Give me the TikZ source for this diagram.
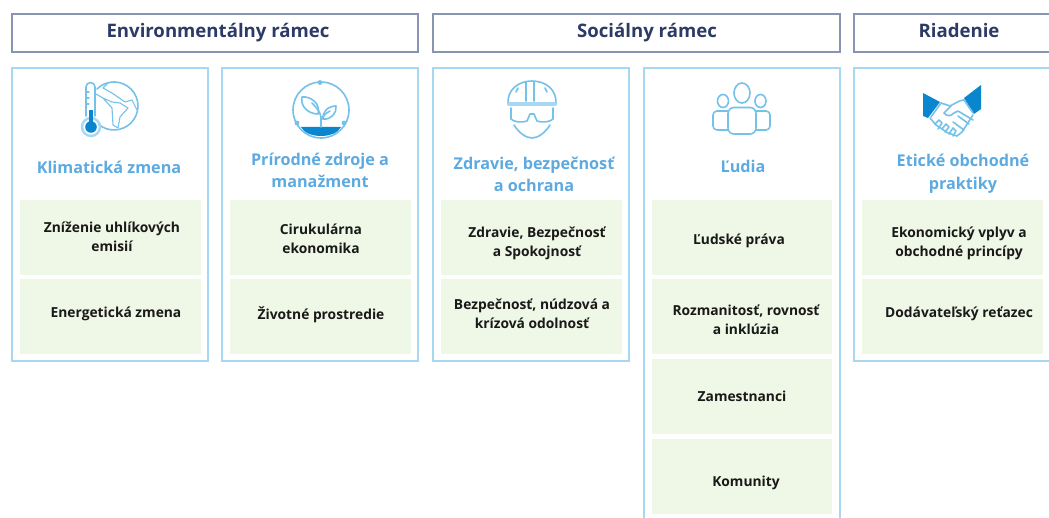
\documentclass[tikz,border=0pt]{standalone}
\usepackage{fontspec}
\setmainfont{Open Sans}
\definecolor{hdrline}{HTML}{8795B3}
\definecolor{hdrtext}{HTML}{2C3A66}
\definecolor{cardline}{HTML}{A6D8F3}
\definecolor{titletext}{HTML}{5DAAE0}
\definecolor{boxgreen}{HTML}{EFF7E6}
\definecolor{iconline}{HTML}{74C1EA}
\definecolor{icondark}{HTML}{0A86CE}
\tikzset{
  hdrbox/.style={draw=hdrline,line width=2.6pt,fill=white,inner sep=0pt},
  hdrlabel/.style={font=\fontsize{18.6}{22}\selectfont\bfseries,text=hdrtext,inner sep=0pt,align=center},
  cardbox/.style={draw=cardline,line width=2.7pt},
  titlelabel/.style={font=\fontsize{16.2}{22.5}\selectfont\bfseries,text=titletext,inner sep=0pt,align=center},
  itemlabel/.style={font=\fontsize{13.8}{19}\selectfont\bfseries,text=black!90,inner sep=0pt,align=center},
  iconstroke/.style={draw=iconline,line width=1.6pt,line cap=round,line join=round},
  iconthin/.style={draw=iconline,line width=1.1pt,line cap=round,line join=round},
  iconfill/.style={fill=icondark,draw=none}
}
\begin{document}
\begin{tikzpicture}[x=1pt,y=-1pt]
\useasboundingbox (0,0) rectangle (1049,518);
\fill[white] (0,0) rectangle (1049,518);
% headers
\draw[hdrbox] (12,14) rectangle (418,52);
\draw[hdrbox] (433,14) rectangle (840,52);
\draw[hdrbox] (1052,14) -- (854,14) -- (854,52) -- (1052,52);
\node[hdrlabel] (henv) at (218,32.5) {Environmentálny rámec};
\node[hdrlabel] (hsoc) at (647,32.5) {Sociálny rámec};
\node[hdrlabel] (hria) at (959,31) {Riadenie};
% cards
\draw[cardbox] (12,68) rectangle (208,361);
\draw[cardbox] (222,68) rectangle (418,361);
\draw[cardbox] (433,68) rectangle (629,361);
\draw[cardbox] (644,522) -- (644,68) -- (840,68) -- (840,522);
\draw[cardbox] (1052,68) -- (854,68) -- (854,361) -- (1052,361);
% green boxes
\fill[boxgreen] (20,200) rectangle (201,275);
\fill[boxgreen] (20,279) rectangle (201,354);
\fill[boxgreen] (230,200) rectangle (411,275);
\fill[boxgreen] (230,279) rectangle (411,354);
\fill[boxgreen] (441,200) rectangle (622,275);
\fill[boxgreen] (441,279) rectangle (622,354);
\fill[boxgreen] (652,200) rectangle (832,275);
\fill[boxgreen] (652,279) rectangle (832,354);
\fill[boxgreen] (652,359) rectangle (832,434);
\fill[boxgreen] (652,439) rectangle (832,514);
\fill[boxgreen] (862,200) rectangle (1043,275);
\fill[boxgreen] (862,279) rectangle (1043,354);
% titles
\node[titlelabel] (t1) at (109,167) {Klimatická zmena};
\node[titlelabel] (t2) at (320,170.5) {Prírodné zdroje a\\manažment};
\node[titlelabel] (t3) at (534,174.5) {Zdravie, bezpečnosť\\a ochrana};
\node[titlelabel] (t4) at (743,166.5) {Ľudia};
\node[titlelabel] (t5) at (963,173.5) {Etické obchodné\\praktiky};
% items
\node[itemlabel] (i1) at (112,237) {Zníženie uhlíkových\\emisií};
\node[itemlabel] (i2) at (116,314) {Energetická zmena};
\node[itemlabel] (i3) at (321,239) {Cirukulárna\\ekonomika};
\node[itemlabel] (i4) at (321,314.5) {Životné prostredie};
\node[itemlabel] (i5) at (537,243.5) {Zdravie, Bezpečnosť\\a Spokojnosť};
\node[itemlabel] (i6) at (532,313.5) {Bezpečnosť, núdzová a\\krízová odolnosť};
\node[itemlabel] (i7) at (739,241) {Ľudské práva};
\node[itemlabel] (i8) at (746,319.5) {Rozmanitosť, rovnosť\\a inklúzia};
\node[itemlabel] (i9) at (742,396.5) {Zamestnanci};
\node[itemlabel] (i10) at (746,482.5) {Komunity};
\node[itemlabel] (i11) at (959,243.5) {Ekonomický vplyv a\\obchodné princípy};
\node[itemlabel] (i12) at (959,314) {Dodávateľský reťazec};
% icon 1: thermometer and globe
\draw[iconstroke] (97,89) arc[start angle=-135,end angle=130,radius=24];
\draw[iconthin] (108,83) -- (103,88) -- (112,93) -- (125,102) -- (132,100) -- (137,110);
\draw[iconthin] (96,94) -- (103,98) -- (112,108) -- (113,125) -- (118,128) -- (120,117) -- (128,108) -- (120,103) -- (112,102) -- (103,98);
\draw[iconstroke] (86,116) -- (86,87) arc[start angle=180,end angle=360,radius=4.5] -- (95,116);
\draw[cardline,line width=2.4pt] (91,127) circle (9);
\fill[icondark] (91,127) circle (5.8);
\fill[icondark] (89.4,110) rectangle (92.6,124);
\draw[iconthin] (86,92) -- (89,92) (86,98) -- (89,98) (86,104) -- (89,104);
% icon 2: plant
\draw[iconstroke] (321,82) arc[start angle=-90,end angle=270,radius=28];
\fill[iconline] (320,82.5) circle (2.4);
\fill[iconline] (297,123) circle (2.4);
\fill[iconline] (344,123) circle (2.4);
\path[iconfill] (301,127) -- (341,127) .. controls (335,139) and (307,139) .. (301,127) -- cycle;
\draw[iconstroke] (321,127) -- (321,117) .. controls (320,112) and (317,108) .. (312,103);
\draw[iconstroke] (321,120) .. controls (323,116) and (326,113) .. (330,111);
\draw[iconstroke] (318,114) .. controls (308,114) and (300,106) .. (302,97) .. controls (311,96) and (321,104) .. (318,114) -- cycle;
\draw[iconstroke] (323,119) .. controls (322,112) and (328,106) .. (336,106) .. controls (337,113) and (331,120) .. (323,119) -- cycle;
% icon 3: helmet
\draw[iconstroke] (508,104) .. controls (507,90) and (518,81) .. (532,81) .. controls (546,81) and (557,90) .. (556,104);
\draw[cardline,line width=4pt,line cap=round] (509,104) -- (555,104);
\draw[iconstroke] (526,101) -- (526,82) (534,101) -- (534,82) (516,92) -- (518,88) (547,92) -- (545,88);
\draw[iconstroke] (511,108) -- (511,119) .. controls (513,122) and (523,123) .. (527,121) -- (530,114) -- (534,114) -- (537,121) .. controls (541,123) and (551,122) .. (553,119) -- (553,108);
\draw[iconstroke] (514,125) .. controls (519,133) and (526,138) .. (532,138) .. controls (538,138) and (545,133) .. (550,125);
% icon 4: people
\draw[iconstroke] (742,93) ellipse (8 and 10);
\draw[iconstroke] (723,101) ellipse (5.5 and 6.5);
\draw[iconstroke] (760.5,101) ellipse (5.5 and 6.5);
\draw[iconstroke,rounded corners=6pt] (728,134) -- (728,107.5) -- (756,107.5) -- (756,134) -- cycle;
\draw[iconstroke,rounded corners=4pt] (728,130) -- (713,130) -- (713,111) -- (728,111);
\draw[iconstroke,rounded corners=4pt] (756,130) -- (770,130) -- (770,111) -- (756,111);
% icon 5: handshake
\path[iconfill] (923,93) -- (940,102) -- (928,118) -- (923,116) -- cycle;
\path[iconfill] (981,85) -- (964,98) -- (974,114) -- (981,109) -- cycle;
\draw[iconstroke] (941,103) -- (950,106) .. controls (956,103) and (960,100) .. (964,100);
\draw[iconstroke] (930,118) -- (936,125) -- (948,133) -- (957,136) -- (962,132) -- (973,115);
\draw[iconstroke] (941,103) -- (931,117);
\draw[iconstroke] (964,100) -- (973,113);
\draw[iconstroke] (951,106) -- (944,113) .. controls (947,117) and (951,116) .. (954,113) -- (958,111) -- (973,120);
\draw[iconstroke] (958,116) -- (969,124) (953,122) -- (964,130);
\draw[iconstroke] (935,124) -- (939,120) -- (942,123) -- (938,129) (942,129) -- (946,124) -- (949,127) -- (945,132) (949,134) -- (953,128) -- (956,131) -- (953,136);
\end{tikzpicture}
\end{document}
